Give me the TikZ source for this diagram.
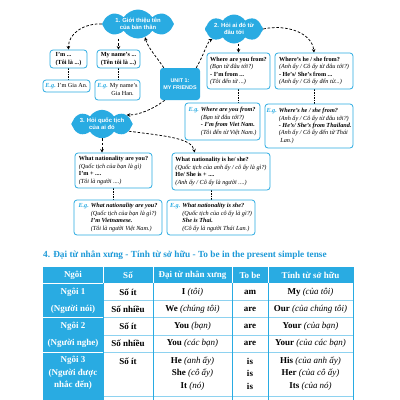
\documentclass[tikz,border=0pt]{standalone}
\usepackage{fontspec}
\setmainfont{Liberation Serif}
\setsansfont{Liberation Sans}
\usetikzlibrary{shapes.symbols,arrows.meta,calc,backgrounds}
\definecolor{mc}{HTML}{29ABE2}
\definecolor{lc}{HTML}{8ED2F0}
\definecolor{hc}{HTML}{1E9AD8}
\newcommand\egl{\textcolor{mc}{\textbf{\textit{E.g.}}}}
\begin{document}
\begin{tikzpicture}[x=1pt,y=-1pt,
  cloudn/.style={cloud, cloud puffs=8, cloud puff arc=115, cloud ignores aspect, fill=mc, text=white,
    font=\sffamily\bfseries\fontsize{5.9}{7}\selectfont, align=center, inner sep=0pt},
  unitbox/.style={fill=mc, rounded corners=3pt, text=white, align=center,
    font=\sffamily\bfseries\fontsize{5.4}{7.5}\selectfont, inner sep=0pt},
  box/.style={draw=mc, line width=0.8pt, rounded corners=3pt, fill=white, inner sep=0pt,
    align=left, font=\fontsize{6.2}{7.4}\selectfont},
  arr/.style={line width=0.75pt, dash pattern=on 2.6pt off 1.8pt, -{Stealth[length=3.6pt,width=3.6pt]}},
  dots/.style={line width=0.9pt, dash pattern=on 1.5pt off 1.1pt},
  th/.style={text=white, font=\bfseries\fontsize{9}{10.5}\selectfont, inner sep=0pt},
  td/.style={font=\fontsize{9}{10.5}\selectfont, inner sep=0pt},
  tc/.style={text=white, font=\bfseries\fontsize{9}{12.5}\selectfont, inner sep=0pt, align=center},
]
\useasboundingbox (0,0) rectangle (400,400);

% clouds and unit box
\node[cloudn, minimum width=72pt, minimum height=29pt] (c1) at (138,24) {1. Giới thiệu tên\\của bản thân};
\node[cloudn, minimum width=58pt, minimum height=29pt] (c2) at (234,29) {2. Hỏi ai đó từ\\đâu tới};
\node[cloudn, minimum width=58pt, minimum height=27pt] (c3) at (102,124) {3. Hỏi quốc tịch\\của ai đó};
\node[unitbox, minimum width=40pt, minimum height=32pt] (u) at (180,84) {UNIT 1:\\MY FRIENDS};

% boxes
\node[box, minimum width=37pt, minimum height=18pt] (bA) at (68.5,59) {\textbf{I'm ...}\\\textbf{(Tôi là ...)}};
\node[box, minimum width=43pt, minimum height=18pt] (bB) at (118.5,59) {\textbf{My name's ...}\\\textbf{(Tên tôi là ...)}};
\node[box, minimum width=47pt, minimum height=12pt] (eA) at (66.5,86) {\egl\ I'm Gia An.};
\node[box, minimum width=45pt, minimum height=20pt] (eB) at (117.5,90) {\begin{tabular}{@{}l@{\hspace{2pt}}l@{}}\egl & My name's\\ & \ Gia Han.\end{tabular}};

\node[box, minimum width=63pt, minimum height=36pt] (bC) at (238.5,71) {\textbf{Where are you from?}\\\textit{(Bạn từ đâu tới?)}\\\textbf{- I'm from ...}\\\textit{(Tôi đến từ ...)}};
\node[box, minimum width=78pt, minimum height=36pt] (bD) at (314,71) {\textbf{Where's he / she from?}\\\textit{(Anh ấy / Cô ấy từ đâu tới?)}\\\textbf{- He's/ She's from ...}\\\textit{(Anh ấy / Cô ấy đến từ...)}};
\node[box, minimum width=75pt, minimum height=37pt] (eC) at (222.5,121.5) {\begin{tabular}{@{}l@{\hspace{2pt}}l@{}}\egl & \textbf{\textit{Where are you from?}}\\ & \textit{(Bạn từ đâu tới?)}\\ & \textbf{\textit{- I'm from Viet Nam.}}\\ & \textit{(Tôi đến từ Việt Nam.)}\end{tabular}};
\node[box, minimum width=88pt, minimum height=44pt] (eD) at (309,126) {\begin{tabular}{@{}l@{\hspace{2pt}}l@{}}\egl & \textbf{\textit{Where's he / she from?}}\\ & \textit{(Anh ấy / Cô ấy từ đâu tới?)}\\ & \textbf{\textit{- He's/ She's from Thailand.}}\\ & \textit{(Anh ấy / Cô ấy đến từ Thái}\\ & \textit{\ Lan.)}\end{tabular}};

\node[box, minimum width=77pt, minimum height=35pt] (bG) at (113.5,170.5) {\textbf{What nationality are you?}\\\textit{(Quốc tịch của bạn là gì)}\\\textbf{I'm + ....}\\\textit{(Tôi là người ....)}};
\node[box, minimum width=98pt, minimum height=37pt] (bH) at (221,171.5) {\textbf{What nationality is he/ she?}\\\textit{(Quốc tịch của anh ấy / cô ấy là gì?)}\\\textbf{He/ She is + ....}\\\textit{(Anh ấy / Cô ấy là người ....)}};
\node[box, minimum width=88pt, minimum height=35pt] (eG) at (118,217.5) {\begin{tabular}{@{}l@{\hspace{2pt}}l@{}}\egl & \textbf{\textit{What nationality are you?}}\\ & \textit{(Quốc tịch của bạn là gì?)}\\ & \textbf{\textit{I'm Vietnamese.}}\\ & \textit{(Tôi là người Việt Nam.)}\end{tabular}};
\node[box, minimum width=88pt, minimum height=35pt] (eH) at (211,217.5) {\begin{tabular}{@{}l@{\hspace{2pt}}l@{}}\egl & \textbf{\textit{What nationality is she?}}\\ & \textit{(Quốc tịch của cô ấy là gì?)}\\ & \textbf{\textit{She is Thai.}}\\ & \textit{(Cô ấy là người Thái Lan.)}\end{tabular}};

% connectors
\begin{pgfonlayer}{background}
\fill[white] (0,0) rectangle (400,400);
\draw[arr] (c1.west) .. controls (85,23) and (68,33) .. (bA.north);
\draw[arr] (c1.south -| bB.north) -- (bB.north);
\draw[arr] ($(u.north west)+(4,0)$) .. controls (156,56) and (148,48) .. (c1.-62);
\draw[arr] ($(u.north east)+(-4,0)$) .. controls (204,55) and (207,42) .. (c2.205);
\draw[arr] (c2.south -| bC.north) -- (bC.north);
\draw[arr] (c2.east) .. controls (285,24) and (312,32) .. (bD.north);
\draw[arr] ($(u.south west)+(5,0)$) .. controls (152,110) and (138,115) .. (c3.20);
\draw[arr] (c3.south) -- (c3.south |- bG.north);
\draw[arr] (c3.-15) .. controls (165,136) and (192,138) .. ($(bH.north west)+(23,0)$);
\draw[dots] (bA.south) -- (bA.south |- eA.north);
\draw[dots] (bB.south) -- (bB.south |- eB.north);
\draw[dots] (bC.south) -- (bC.south |- eC.north);
\draw[dots] (bD.south) -- (bD.south |- eD.north);
\draw[dots] (bG.south) -- (bG.south |- eG.north);
\draw[dots] (eH.north |- bH.south) -- (eH.north);
\end{pgfonlayer}

% heading
\node[anchor=west, text=hc, font=\bfseries\fontsize{9.3}{11}\selectfont, inner sep=0pt] (hd) at (43,255) {4. Đại từ nhân xưng - Tính từ sở hữu - To be in the present simple tense};

% table
\begin{scope}
\clip (0,0) rectangle (400,400);
\fill[mc] (43,267) rectangle (353,283);
\fill[mc] (43,283) rectangle (103,410);
\draw[white, line width=0.6pt] (103,267) -- (103,283) (153,267) -- (153,283) (232,267) -- (232,283) (268,267) -- (268,283);
\draw[white, line width=0.6pt] (43,283) -- (103,283) (43,317) -- (103,317) (43,352) -- (103,352);
\draw[lc, line width=0.7pt] (103,300) -- (353,300) (103,317) -- (353,317) (103,335) -- (353,335) (103,352) -- (353,352) (103,396) -- (353,396);
\draw[mc, line width=0.7pt] (153,283) -- (153,410) (232,283) -- (232,410) (268,283) -- (268,410) (353,267) -- (353,410) (103,283) -- (103,410);

\node[th] (h1) at (73,275) {Ngôi};
\node[th] (h2) at (128,275) {Số};
\node[th] (h3) at (192.5,275) {Đại từ nhân xưng};
\node[th] (h4) at (250,275) {To be};
\node[th] (h5) at (310.5,275) {Tính từ sở hữu};

\node[tc] (n1a) at (73,292) {Ngôi 1};
\node[tc] (n1b) at (73,309) {(Người nói)};
\node[tc] (n2a) at (73,326) {Ngôi 2};
\node[tc] (n2b) at (73,343.5) {(Người nghe)};
\node[tc] (n3) at (73,373) {Ngôi 3\\(Người được\\nhắc đến)};

\node[td] (r1b) at (128,292) {\textbf{Số ít}};
\node[td] (r1c) at (192.5,292) {\textbf{I} \textit{(tôi)}};
\node[td] (r1d) at (250,292) {\textbf{am}};
\node[td] (r1e) at (310.5,292) {\textbf{My} \textit{(của tôi)}};

\node[td] (r2b) at (128,309) {\textbf{Số nhiều}};
\node[td] (r2c) at (192.5,309) {\textbf{We} \textit{(chúng tôi)}};
\node[td] (r2d) at (250,309) {\textbf{are}};
\node[td] (r2e) at (310.5,309) {\textbf{Our} \textit{(của chúng tôi)}};

\node[td] (r3b) at (128,326) {\textbf{Số ít}};
\node[td] (r3c) at (192.5,326) {\textbf{You} \textit{(bạn)}};
\node[td] (r3d) at (250,326) {\textbf{are}};
\node[td] (r3e) at (310.5,326) {\textbf{Your} \textit{(của bạn)}};

\node[td] (r4b) at (128,343.5) {\textbf{Số nhiều}};
\node[td] (r4c) at (192.5,343.5) {\textbf{You} \textit{(các bạn)}};
\node[td] (r4d) at (250,343.5) {\textbf{are}};
\node[td] (r4e) at (310.5,343.5) {\textbf{Your} \textit{(của các bạn)}};

\node[td] (r5b) at (128,361) {\textbf{Số ít}};
\node[td] (r5c) at (192.5,361) {\textbf{He} \textit{(anh ấy)}};
\node[td] (r5d) at (250,361) {\textbf{is}};
\node[td] (r5e) at (310.5,361) {\textbf{His} \textit{(của anh ấy)}};
\node[td] (r6c) at (192.5,373.5) {\textbf{She} \textit{(cô ấy)}};
\node[td] (r6d) at (250,373.5) {\textbf{is}};
\node[td] (r6e) at (310.5,373.5) {\textbf{Her} \textit{(của cô ấy)}};
\node[td] (r7c) at (192.5,386) {\textbf{It} \textit{(nó)}};
\node[td] (r7d) at (250,386) {\textbf{is}};
\node[td] (r7e) at (310.5,386) {\textbf{Its} \textit{(của nó)}};
\end{scope}
\end{tikzpicture}
\end{document}
